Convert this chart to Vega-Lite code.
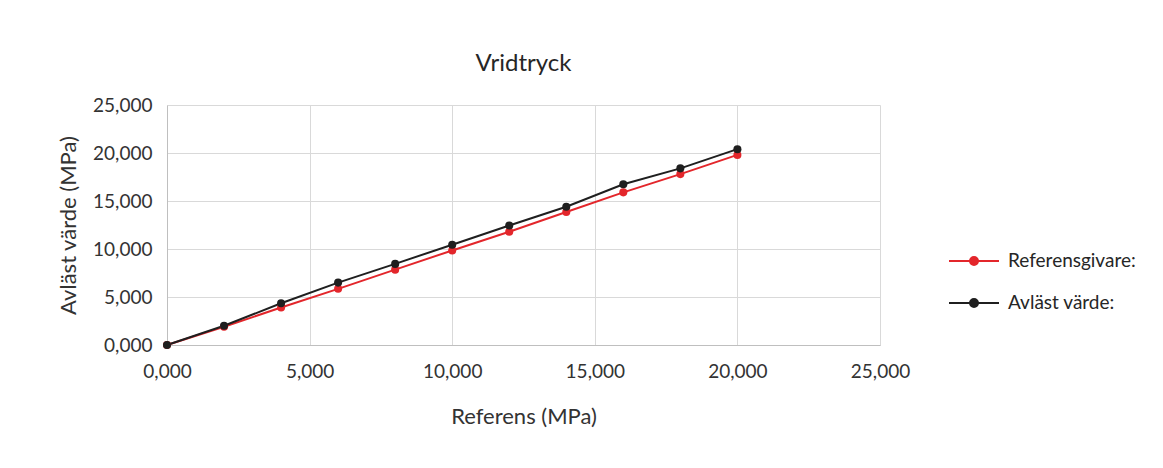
{
  "$schema": "https://vega.github.io/schema/vega-lite/v6.json",
  "autosize": "none",
  "padding": {"left": 167, "top": 105, "right": 283, "bottom": 123},
  "width": 713,
  "height": 240,
  "background": "white",
  "title": {"text": "Vridtryck", "fontSize": 24, "font": "Lato", "fontWeight": "normal", "color": "#262626", "offset": 20, "anchor": "middle"},
  "config": {
    "locale": {"number": {"decimal": ",", "thousands": "\u00a0", "grouping": [3], "currency": ["", " kr"]}},
    "view": {"stroke": null},
    "axis": {"labelFont": "Lato", "titleFont": "Lato", "labelFontSize": 19, "titleFontSize": 22, "titleFontWeight": "normal", "labelColor": "#333333", "titleColor": "#333333", "gridColor": "#d9d9d9", "domainColor": "#bfbfbf", "ticks": false, "labelFlush": false},
    "legend": {"labelFont": "Lato", "labelFontSize": 19, "labelColor": "#262626"}
  },
  "data": {"values": [
    {"ref": 0, "val": 0, "serie": "Referensgivare:"},
    {"ref": 2, "val": 1.9, "serie": "Referensgivare:"},
    {"ref": 4, "val": 3.9, "serie": "Referensgivare:"},
    {"ref": 6, "val": 5.85, "serie": "Referensgivare:"},
    {"ref": 8, "val": 7.85, "serie": "Referensgivare:"},
    {"ref": 10, "val": 9.85, "serie": "Referensgivare:"},
    {"ref": 12, "val": 11.8, "serie": "Referensgivare:"},
    {"ref": 14, "val": 13.85, "serie": "Referensgivare:"},
    {"ref": 16, "val": 15.9, "serie": "Referensgivare:"},
    {"ref": 18, "val": 17.8, "serie": "Referensgivare:"},
    {"ref": 20, "val": 19.8, "serie": "Referensgivare:"},
    {"ref": 0, "val": 0, "serie": "Avläst värde:"},
    {"ref": 2, "val": 2.0, "serie": "Avläst värde:"},
    {"ref": 4, "val": 4.35, "serie": "Avläst värde:"},
    {"ref": 6, "val": 6.5, "serie": "Avläst värde:"},
    {"ref": 8, "val": 8.45, "serie": "Avläst värde:"},
    {"ref": 10, "val": 10.45, "serie": "Avläst värde:"},
    {"ref": 12, "val": 12.45, "serie": "Avläst värde:"},
    {"ref": 14, "val": 14.4, "serie": "Avläst värde:"},
    {"ref": 16, "val": 16.75, "serie": "Avläst värde:"},
    {"ref": 18, "val": 18.4, "serie": "Avläst värde:"},
    {"ref": 20, "val": 20.4, "serie": "Avläst värde:"}
  ]},
  "encoding": {
    "x": {"field": "ref", "type": "quantitative", "title": "Referens (MPa)", "scale": {"domain": [0, 25], "nice": false}, "axis": {"values": [0, 5, 10, 15, 20, 25], "format": ".3f", "labelPadding": 17, "titlePadding": 25, "grid": true}},
    "y": {"field": "val", "type": "quantitative", "title": "Avläst värde (MPa)", "scale": {"domain": [0, 25], "nice": false}, "axis": {"values": [0, 5, 10, 15, 20, 25], "format": ".3f", "labelPadding": 15, "titlePadding": 12, "grid": true}},
    "color": {"field": "serie", "type": "nominal", "scale": {"domain": ["Referensgivare:", "Avläst värde:"], "range": ["#e3262b", "#1f1f1f"]},
      "legend": {"title": null, "orient": "none", "legendX": 781, "legendY": 130, "symbolType": "M-1,0L1,0M0.16,0A0.16,0.16,0,1,1,-0.16,0A0.16,0.16,0,1,1,0.16,0Z", "symbolSize": 2500, "symbolStrokeWidth": 2, "rowPadding": 6, "labelOffset": 8,
        "encode": {"symbols": {"update": {"fill": {"scale": "color", "field": "value"}, "stroke": {"scale": "color", "field": "value"}, "strokeWidth": {"value": 2}, "opacity": {"value": 1}}}}}}
  },
  "layer": [
    {"mark": {"type": "line", "strokeWidth": 2}},
    {"mark": {"type": "point", "filled": true, "size": 65, "opacity": 1, "strokeWidth": 1}}
  ]
}
